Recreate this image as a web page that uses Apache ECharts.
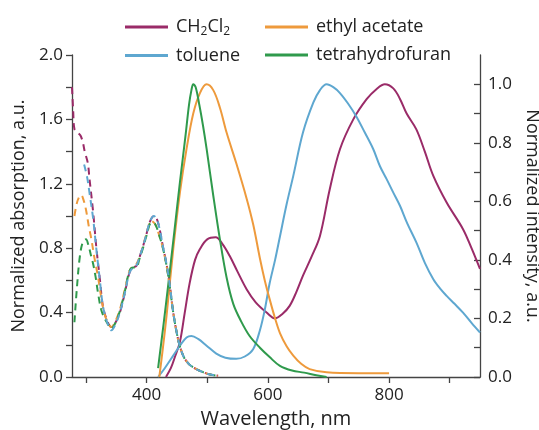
<!DOCTYPE html>
<html>
<head>
<meta charset="utf-8">
<script src="https://cdn.jsdelivr.net/npm/echarts@6/dist/echarts.min.js"></script>
<style>
  html, body { margin: 0; padding: 0; background: #fff; }
  #chart { width: 539px; height: 430px; }
</style>
</head>
<body>
<div id="chart"></div>
<script>
// 横轴刻度
const xTicks = [300, 400, 500, 600, 700, 800, 900]
const xLabels = [400, 600, 800]
const rightTicks = [0, 0.1, 0.2, 0.3, 0.4, 0.5, 0.6, 0.7, 0.8, 0.9, 1.0]
const rightLabels = [0, 0.2, 0.4, 0.6, 0.8, 1.0]

// 发射光谱（右轴）
const emWl_ch2cl2 = [432, 440, 447, 455, 463, 471, 480, 488, 500, 514, 525, 537, 550, 565, 580, 598, 612, 624, 636, 647, 658, 672, 686, 702, 719, 741, 763, 780, 793, 807, 818, 829, 845, 859, 873, 895, 922, 936, 950]
const emVal_ch2cl2 = [0, 0.03, 0.07, 0.12, 0.22, 0.32, 0.4, 0.437, 0.47, 0.477, 0.455, 0.414, 0.36, 0.3, 0.255, 0.22, 0.2, 0.215, 0.243, 0.29, 0.346, 0.41, 0.482, 0.64, 0.778, 0.88, 0.949, 0.985, 1.0, 0.986, 0.95, 0.9, 0.846, 0.77, 0.687, 0.596, 0.505, 0.44, 0.369]

const emWl_toluene = [419, 430, 444, 456, 466, 474, 485, 499, 515, 530, 548, 562, 576, 587, 595, 603, 612, 620, 631, 642, 658, 675, 686, 697, 708, 719, 732, 746, 760, 774, 785, 796, 807, 818, 830, 845, 859, 873, 885, 895, 908, 922, 936, 950]
const emVal_toluene = [0, 0.03, 0.073, 0.11, 0.135, 0.14, 0.13, 0.107, 0.08, 0.066, 0.062, 0.07, 0.096, 0.16, 0.23, 0.32, 0.4, 0.48, 0.59, 0.687, 0.835, 0.937, 0.98, 1.0, 0.99, 0.97, 0.935, 0.89, 0.835, 0.778, 0.72, 0.676, 0.63, 0.585, 0.525, 0.46, 0.39, 0.334, 0.3, 0.277, 0.25, 0.22, 0.185, 0.152]

const emWl_ethyl = [421, 427, 433, 444, 455, 466, 477, 488, 499, 510, 521, 532, 548, 565, 576, 587, 595, 603, 612, 620, 631, 642, 655, 669, 697, 750, 800]
const emVal_ethyl = [0, 0.1, 0.21, 0.437, 0.63, 0.78, 0.9, 0.97, 1.0, 0.98, 0.92, 0.835, 0.73, 0.61, 0.52, 0.405, 0.33, 0.266, 0.2, 0.15, 0.105, 0.073, 0.045, 0.027, 0.016, 0.013, 0.013]

const emWl_thf = [419, 428, 436, 446, 455, 464, 470, 474, 477, 481, 487, 493, 499, 510, 521, 532, 543, 556, 570, 587, 603, 620, 640, 660, 680, 697]
const emVal_thf = [0.03, 0.18, 0.32, 0.5, 0.665, 0.82, 0.93, 0.98, 1.0, 0.99, 0.93, 0.86, 0.78, 0.62, 0.47, 0.34, 0.25, 0.19, 0.14, 0.1, 0.068, 0.038, 0.022, 0.015, 0.006, 0]

// 吸收光谱（左轴）
const abWl_ch2cl2 = [277, 279, 281, 286, 291, 295, 298, 303, 306, 312, 317, 323, 328, 335, 342, 349, 356, 364, 372, 378, 383, 388, 394, 400, 405, 412, 417, 422, 427, 433, 438, 444, 450, 455, 462, 470, 477, 490, 505, 518]
const abVal_ch2cl2 = [1.8, 1.65, 1.54, 1.52, 1.5, 1.455, 1.4, 1.33, 1.226, 1.02, 0.81, 0.607, 0.44, 0.35, 0.31, 0.34, 0.4, 0.52, 0.65, 0.68, 0.69, 0.74, 0.81, 0.89, 0.96, 1.0, 0.98, 0.91, 0.81, 0.7, 0.58, 0.4, 0.27, 0.19, 0.12, 0.08, 0.06, 0.035, 0.015, 0.008]

const abWl_toluene = [297, 302, 306, 312, 317, 323, 328, 335, 342, 349, 356, 364, 372, 378, 383, 388, 394, 400, 405, 412, 417, 422, 427, 433, 438, 444, 450, 455, 462, 470, 477, 490, 505, 518]
const abVal_toluene = [1.32, 1.24, 1.14, 0.98, 0.8, 0.6, 0.44, 0.34, 0.29, 0.33, 0.4, 0.52, 0.65, 0.68, 0.69, 0.74, 0.81, 0.89, 0.96, 1.0, 0.98, 0.91, 0.81, 0.7, 0.58, 0.4, 0.27, 0.19, 0.12, 0.08, 0.06, 0.035, 0.015, 0.008]

const abWl_ethyl = [281, 285, 289, 292, 296, 300, 305, 309, 314, 320, 325, 330, 336, 342, 349, 356, 364, 372, 378, 383, 388, 394, 400, 408, 414, 420, 427, 433, 438, 444, 450, 455, 462, 470, 477, 490, 505, 518]
const abVal_ethyl = [1.0, 1.08, 1.12, 1.13, 1.1, 1.04, 0.93, 0.855, 0.74, 0.62, 0.5, 0.4, 0.34, 0.31, 0.35, 0.42, 0.54, 0.66, 0.69, 0.7, 0.74, 0.81, 0.89, 0.97, 0.95, 0.89, 0.8, 0.69, 0.57, 0.4, 0.27, 0.19, 0.12, 0.08, 0.06, 0.035, 0.015, 0.008]

const abWl_thf = [281, 285, 290, 295, 300, 304, 308, 312, 316, 320, 325, 330, 336, 342, 349, 356, 364, 372, 378, 383, 388, 394, 400, 408, 414, 420, 427, 433, 438, 444, 450, 455, 462, 470, 477, 490, 505, 518]
const abVal_thf = [0.34, 0.55, 0.75, 0.84, 0.855, 0.82, 0.76, 0.7, 0.62, 0.52, 0.42, 0.37, 0.33, 0.3, 0.34, 0.41, 0.53, 0.66, 0.68, 0.68, 0.73, 0.8, 0.88, 0.96, 0.95, 0.89, 0.8, 0.69, 0.57, 0.4, 0.27, 0.19, 0.12, 0.08, 0.06, 0.035, 0.015, 0.008]

const colors = {
  ch2cl2: '#9a2b68',
  toluene: '#5ea7d0',
  ethyl: '#ee9a3c',
  thf: '#2f9a4c',
}

const zip = (xs, ys) => xs.map((x, i) => [x, ys[i]])

const font = 'Open Sans'
const textColor = '#222'
const axisColor = '#444'

const chartInstance = echarts.init(document.getElementById('chart'))

function emission(name, xs, ys, color) {
  return {
    name,
    type: 'line',
    yAxisIndex: 1,
    data: zip(xs, ys),
    smooth: 0.35,
    symbol: 'none',
    lineStyle: { color, width: 2 },
    itemStyle: { color },
    z: 2,
  }
}

function absorption(name, xs, ys, color) {
  return {
    name,
    type: 'line',
    yAxisIndex: 0,
    data: zip(xs, ys),
    smooth: 0.35,
    symbol: 'none',
    lineStyle: { color, width: 2, type: [7, 5] },
    itemStyle: { color },
    z: 3,
  }
}

const legendText = {
  fontFamily: font,
  fontSize: 18,
  color: textColor,
  lineHeight: 20,
  padding: [0, 0, 0, 3],
  rich: {
    n: { fontFamily: font, fontSize: 18, color: textColor },
    s: { fontFamily: font, fontSize: 12, color: textColor, padding: [9, 0, 0, 0] },
  },
}
const legendFormatter = (name) => (name === 'CH2Cl2' ? '{n|CH}{s|2}{n|Cl}{s|2}' : name)

const option = {
  animation: false,
  backgroundColor: '#fff',
  grid: { left: 72, right: 59, top: 55, bottom: 53, containLabel: false, outerBoundsMode: 'none' },
  legend: [
    {
      data: ['CH2Cl2', 'toluene'],
      orient: 'vertical',
      left: 120,
      top: 12,
      itemWidth: 43,
      itemHeight: 3,
      itemGap: 8,
      icon: 'rect',
      textStyle: legendText,
      formatter: legendFormatter,
    },
    {
      data: ['ethyl acetate', 'tetrahydrofuran'],
      orient: 'vertical',
      left: 260,
      top: 12,
      itemWidth: 43,
      itemHeight: 3,
      itemGap: 8,
      icon: 'rect',
      textStyle: legendText,
    },
  ],
  xAxis: {
    type: 'value',
    min: 277,
    max: 950,
    name: 'Wavelength, nm',
    nameLocation: 'middle',
    nameGap: 27,
    nameTextStyle: { fontFamily: font, fontSize: 20, color: textColor },
    axisLine: { show: true, lineStyle: { color: axisColor, width: 1.3 } },
    axisTick: { show: true, length: 6, customValues: xTicks, lineStyle: { color: axisColor, width: 1.3 } },
    axisLabel: { customValues: xLabels, margin: 10, fontFamily: font, fontSize: 17, color: textColor },
    splitLine: { show: false },
  },
  yAxis: [
    {
      type: 'value',
      min: 0,
      max: 2,
      interval: 0.4,
      name: 'Normalized absorption, a.u.',
      nameLocation: 'middle',
      nameGap: 39,
      nameTextStyle: { fontFamily: font, fontSize: 18, color: textColor },
      axisLine: { show: true, lineStyle: { color: axisColor, width: 1.3 } },
      axisTick: { show: true, length: 6, lineStyle: { color: axisColor, width: 1.3 } },
      minorTick: { show: true, splitNumber: 2, length: 6, lineStyle: { color: axisColor, width: 1.3 } },
      axisLabel: { margin: 9, fontFamily: font, fontSize: 17, color: textColor, formatter: (v) => v.toFixed(1) },
      splitLine: { show: false },
    },
    {
      type: 'value',
      min: 0,
      max: 1.1,
      position: 'right',
      name: 'Normalized intensity, a.u.',
      nameLocation: 'middle',
      nameRotate: -90,
      nameGap: 39,
      nameTextStyle: { fontFamily: font, fontSize: 18, color: textColor },
      axisLine: { show: true, lineStyle: { color: axisColor, width: 1.3 } },
      axisTick: { show: true, inside: true, length: 6, customValues: rightTicks, lineStyle: { color: axisColor, width: 1.3 } },
      axisLabel: { customValues: rightLabels, margin: 8, fontFamily: font, fontSize: 17, color: textColor, formatter: (v) => v.toFixed(1) },
      splitLine: { show: false },
    },
  ],
  series: [
    absorption('abs CH2Cl2', abWl_ch2cl2, abVal_ch2cl2, colors.ch2cl2),
    absorption('abs ethyl acetate', abWl_ethyl, abVal_ethyl, colors.ethyl),
    absorption('abs tetrahydrofuran', abWl_thf, abVal_thf, colors.thf),
    absorption('abs toluene', abWl_toluene, abVal_toluene, colors.toluene),
    emission('CH2Cl2', emWl_ch2cl2, emVal_ch2cl2, colors.ch2cl2),
    emission('toluene', emWl_toluene, emVal_toluene, colors.toluene),
    emission('ethyl acetate', emWl_ethyl, emVal_ethyl, colors.ethyl),
    emission('tetrahydrofuran', emWl_thf, emVal_thf, colors.thf),
  ],
}
chartInstance.setOption(option)
</script>
</body>
</html>
